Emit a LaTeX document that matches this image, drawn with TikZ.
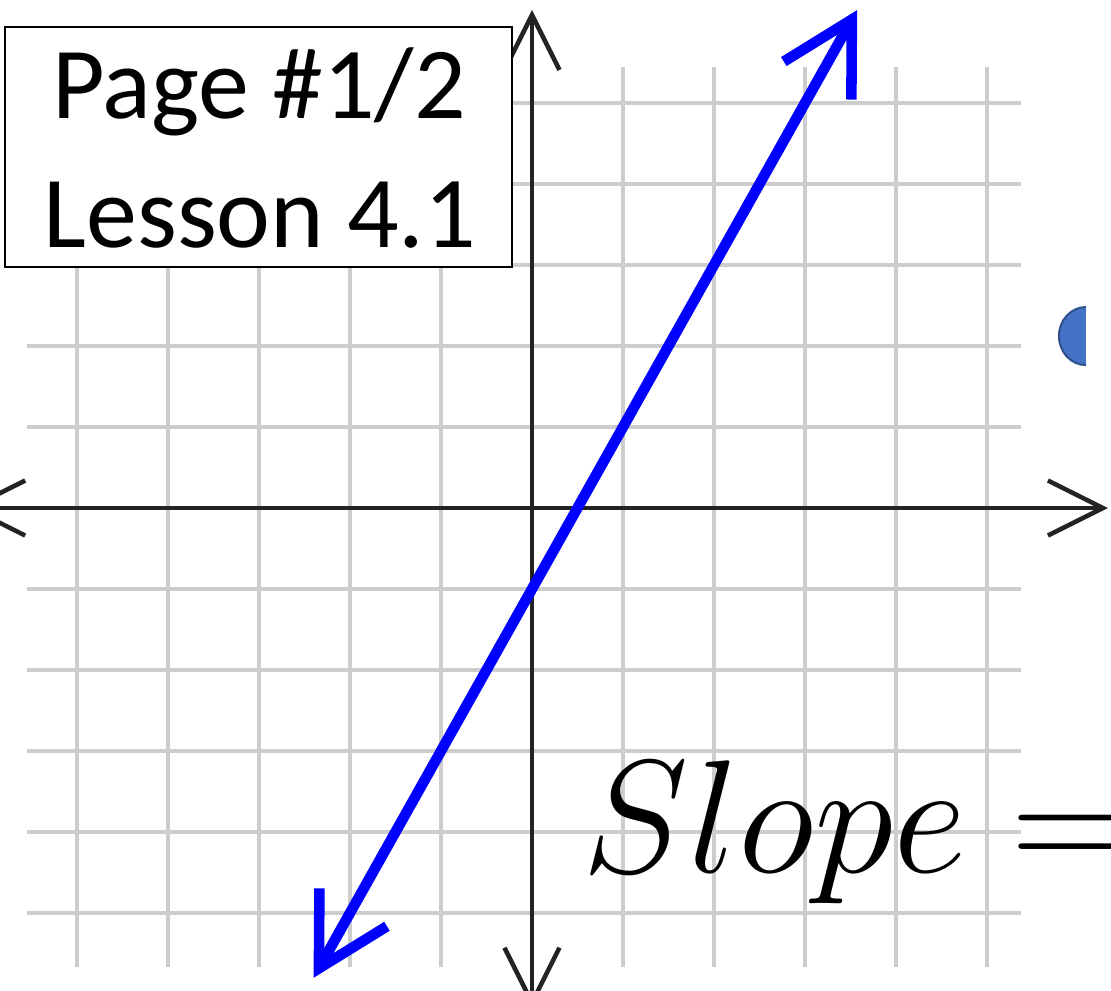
\RequirePackage{fix-cm}
\documentclass[tikz,border=0pt]{standalone}
\usepackage{fontspec}
\usepackage{tikz}
\usetikzlibrary{arrows.meta, positioning}
\newfontfamily\calibrifont{Carlito}
\definecolor{gridgray}{RGB}{205,205,205}
\definecolor{axisdark}{RGB}{35,35,35}
\definecolor{lineblue}{RGB}{0,0,255}
\definecolor{ovalfill}{RGB}{68,114,196}
\definecolor{ovaledge}{RGB}{47,82,143}
\tikzset{
  gridline/.style={gridgray, line width=2.8pt},
  axisline/.style={axisdark, line width=2.6pt,
    {Straight Barb[length=1.1cm, width=1.1cm]}-{Straight Barb[length=1.1cm, width=1.1cm]}},
  graphline/.style={lineblue, line width=6pt,
    {Straight Barb[length=1.4cm, width=1.55cm]}-{Straight Barb[length=1.4cm, width=1.55cm]}},
  labelbox/.style={rectangle, draw=black, fill=white, line width=1.1pt,
    minimum width=10.14cm, minimum height=4.8cm},
  boxtext/.style={font=\calibrifont\fontsize{58}{70}\selectfont, inner sep=0pt, anchor=base}
}

\begin{document}
\begin{tikzpicture}[x=1.82cm, y=1.62cm]
  \useasboundingbox (-5.846,-5.951) rectangle (6.363,6.272);

  % Grid
  \foreach \k in {-5,...,5} {
    \draw[gridline] (-5.55,\k) -- (5.37,\k);
    \draw[gridline] (\k,-5.67) -- (\k,5.44);
  }

  % Axes
  \coordinate (xleft) at (-6.23,0);
  \coordinate (xright) at (6.33,0);
  \coordinate (ybottom) at (0,-6.17);
  \coordinate (ytop) at (0,6.15);
  \draw[axisline] (xleft) -- (xright);
  \draw[axisline] (ybottom) -- (ytop);

  % Line y = 2x - 1
  \coordinate (lowtip) at (-2.40,-5.80);
  \coordinate (hightip) at (3.574,6.148);
  \draw[graphline] (lowtip) -- (hightip);

  % Page label
  \node[labelbox] (label) at (-3.005,4.457) {};
  \node[boxtext] (pagetxt) at (-3.0,4.815) {Page \#1/2};
  \node[boxtext] (lessontxt) at (-2.989,3.222) {Lesson 4.1};

  % Slope text
  \node[inner sep=0pt, anchor=base west, font=\fontsize{91.6}{100}\selectfont] (slope) at (0.549,-4.506) {$Slope=$};

  % Half oval at the right edge
  \fill[ovalfill] (6.088,2.481) arc[start angle=90, end angle=270, x radius=0.54cm, y radius=0.58cm];
  \draw[ovaledge, line width=1.2pt] (6.088,2.481) arc[start angle=90, end angle=270, x radius=0.54cm, y radius=0.58cm];
\end{tikzpicture}
\end{document}
